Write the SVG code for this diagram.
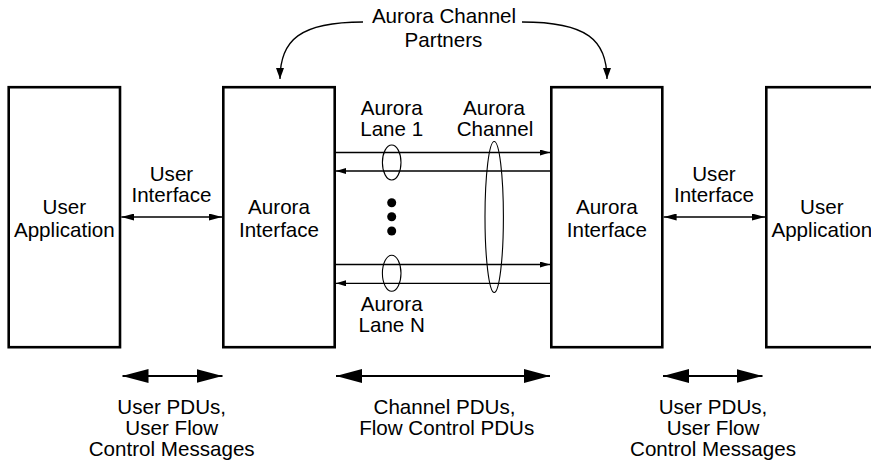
<svg xmlns="http://www.w3.org/2000/svg" width="871" height="462" viewBox="0 0 871 462">
<style>
text{font-family:"Liberation Sans",Arial,Helvetica,sans-serif;font-size:20.6px;fill:#000;text-anchor:middle}
.box{fill:#fff;stroke:#000;stroke-width:2.6}
.thin{stroke:#000;stroke-width:1.3;fill:none}
.thick{stroke:#000;stroke-width:2.2;fill:none}
.ell{fill:none;stroke:#000;stroke-width:1.1}
</style>
<defs>
<marker id="ah" viewBox="0 0 10 6" markerWidth="10" markerHeight="6" refX="10" refY="3" orient="auto-start-reverse" markerUnits="userSpaceOnUse"><path d="M0,0 L10,3 L0,6 z" fill="#000"/></marker>
<marker id="ahm" viewBox="0 0 13 7" markerWidth="13" markerHeight="7" refX="13" refY="3.5" orient="auto-start-reverse" markerUnits="userSpaceOnUse"><path d="M0,0 L13,3.5 L0,7 z" fill="#000"/></marker>
<marker id="ahc" viewBox="0 0 8 11" markerWidth="8" markerHeight="11" refX="4" refY="11" orient="0" markerUnits="userSpaceOnUse"><path d="M0,0 L4,11 L8,0 z" fill="#000"/></marker>
<marker id="ahb" viewBox="0 0 26 14" markerWidth="26" markerHeight="14" refX="26" refY="7" orient="auto-start-reverse" markerUnits="userSpaceOnUse"><path d="M0,0 L26,7 L0,14 z" fill="#000"/></marker>
</defs>
<g id="user-app-left">
<rect class="box" x="8.7" y="87.2" width="111.3" height="260"/>
<text x="64.3" y="214">User</text>
<text x="64.3" y="237">Application</text>
</g>
<g id="aurora-if-left">
<rect class="box" x="223.3" y="87.2" width="111.4" height="260"/>
<text x="279" y="214">Aurora</text>
<text x="279" y="237">Interface</text>
</g>
<g id="aurora-if-right">
<rect class="box" x="551.3" y="87.2" width="111" height="260"/>
<text x="606.8" y="214">Aurora</text>
<text x="606.8" y="237">Interface</text>
</g>
<g id="user-app-right">
<rect class="box" x="766.3" y="87.2" width="111" height="260"/>
<text x="821.8" y="214">User</text>
<text x="821.8" y="237">Application</text>
</g>
<g id="connectors">
<path class="thin" d="M363,22 C300,22 280,40 280,79" marker-end="url(#ahc)"/>
<path class="thin" d="M522,22 C587,22 607,40 607,79" marker-end="url(#ahc)"/>
<line class="thin" x1="121.3" y1="217" x2="222" y2="217" marker-start="url(#ahm)" marker-end="url(#ahm)"/>
<line class="thin" x1="663.6" y1="217" x2="765" y2="217" marker-start="url(#ahm)" marker-end="url(#ahm)"/>
<line class="thin" x1="336" y1="152.5" x2="550" y2="152.5" marker-end="url(#ah)"/>
<line class="thin" x1="550" y1="171" x2="336" y2="171" marker-end="url(#ah)"/>
<line class="thin" x1="336" y1="264.5" x2="550" y2="264.5" marker-end="url(#ah)"/>
<line class="thin" x1="550" y1="283.3" x2="336" y2="283.3" marker-end="url(#ah)"/>
<line class="thick" x1="122.5" y1="376" x2="222.5" y2="376" marker-start="url(#ahb)" marker-end="url(#ahb)"/>
<line class="thick" x1="336" y1="376" x2="550" y2="376" marker-start="url(#ahb)" marker-end="url(#ahb)"/>
<line class="thick" x1="663" y1="376" x2="762.5" y2="376" marker-start="url(#ahb)" marker-end="url(#ahb)"/>
</g>
<g id="lanes">
<ellipse class="ell" cx="391.7" cy="162.5" rx="9.3" ry="17.5"/>
<ellipse class="ell" cx="391.7" cy="273.3" rx="9.3" ry="18"/>
<ellipse class="ell" cx="494.2" cy="217" rx="9.2" ry="75.5"/>
<circle cx="391.7" cy="202.7" r="4.5" fill="#000"/>
<circle cx="391.7" cy="216.8" r="4.5" fill="#000"/>
<circle cx="391.7" cy="231" r="4.5" fill="#000"/>
</g>
<g id="labels">
<text x="444" y="23">Aurora Channel</text>
<text x="443.5" y="46.5">Partners</text>
<text x="171.5" y="181">User</text>
<text x="171.5" y="202">Interface</text>
<text x="714" y="181">User</text>
<text x="714" y="202">Interface</text>
<text x="391.7" y="115">Aurora</text>
<text x="391.7" y="136">Lane 1</text>
<text x="494" y="115">Aurora</text>
<text x="495" y="136">Channel</text>
<text x="391.7" y="311">Aurora</text>
<text x="391.7" y="332">Lane N</text>
<text x="171.7" y="413.5">User PDUs,</text>
<text x="171.7" y="434.5">User Flow</text>
<text x="171.7" y="455.5">Control Messages</text>
<text x="444.5" y="413.5">Channel PDUs,</text>
<text x="446.7" y="434.5">Flow Control PDUs</text>
<text x="713" y="413.5">User PDUs,</text>
<text x="713" y="434.5">User Flow</text>
<text x="713" y="455.5">Control Messages</text>
</g>
</svg>
